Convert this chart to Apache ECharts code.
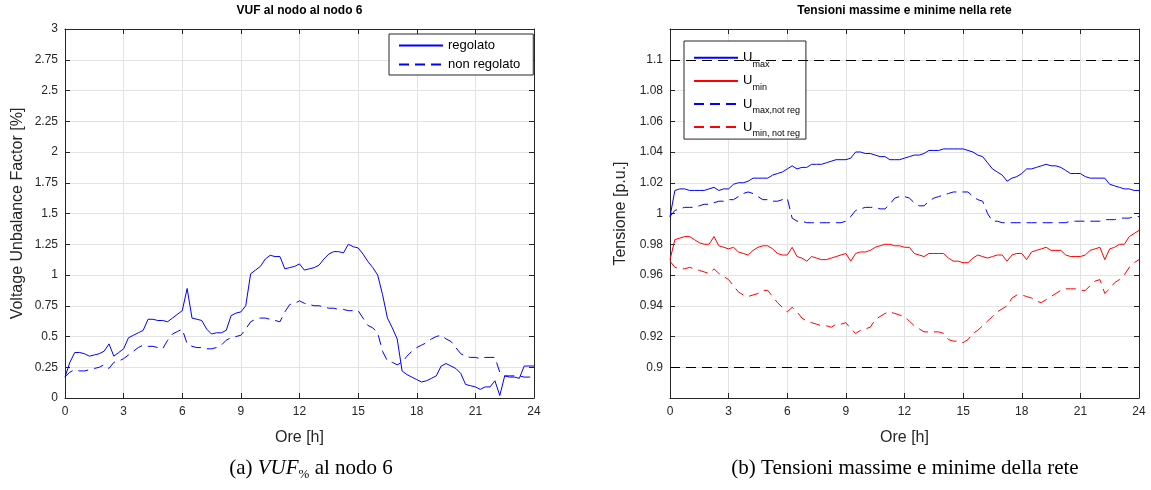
<!DOCTYPE html>
<html>
<head>
<meta charset="utf-8">
<script src="https://cdn.jsdelivr.net/npm/echarts@6/dist/echarts.min.js"></script>
<style>
  html, body { margin: 0; padding: 0; background: #fff; }
  #chart { width: 1151px; height: 490px; }
</style>
</head>
<body>
<div id="chart"></div>
<script>
// Sampling instants: one every quarter of an hour over the day
const hours = Array.from({ length: 97 }, (_, i) => i * 0.25);
const hourTickStep = 3;

// Voltage Unbalance Factor at node 6 [%] (one row per hour: :00 :15 :30 :45)
const vufRegolato = [
  0.17, 0.29, 0.37, 0.37,
  0.36, 0.34, 0.35, 0.36,
  0.38, 0.44, 0.34, 0.37,
  0.40, 0.49, 0.51, 0.53,
  0.55, 0.64, 0.64, 0.63,
  0.63, 0.62, 0.65, 0.68,
  0.71, 0.89, 0.65, 0.64,
  0.63, 0.56, 0.52, 0.53,
  0.53, 0.55, 0.67, 0.69,
  0.70, 0.75, 1.01, 1.04,
  1.07, 1.13, 1.16, 1.15,
  1.15, 1.05, 1.06, 1.07,
  1.09, 1.04, 1.05, 1.06,
  1.08, 1.13, 1.17, 1.19,
  1.19, 1.18, 1.25, 1.23,
  1.22, 1.17, 1.11, 1.06,
  1.00, 0.84, 0.65, 0.57,
  0.48, 0.22, 0.19, 0.17,
  0.15, 0.13, 0.14, 0.16,
  0.18, 0.26, 0.28, 0.26,
  0.24, 0.20, 0.11, 0.10,
  0.09, 0.07, 0.09, 0.09,
  0.14, 0.02, 0.18, 0.17,
  0.17, 0.16, 0.26, 0.26,
  0.26
];
const vufNonRegolato = [
  0.17, 0.21, 0.23, 0.22,
  0.22, 0.23, 0.24, 0.25,
  0.27, 0.24, 0.29, 0.30,
  0.32, 0.35, 0.38, 0.41,
  0.43, 0.42, 0.42, 0.41,
  0.40, 0.47, 0.52, 0.54,
  0.56, 0.44, 0.42, 0.41,
  0.41, 0.40, 0.40, 0.41,
  0.43, 0.47, 0.49, 0.50,
  0.51, 0.56, 0.62, 0.64,
  0.65, 0.65, 0.64, 0.63,
  0.62, 0.70, 0.76, 0.77,
  0.79, 0.77, 0.76, 0.75,
  0.75, 0.74, 0.73, 0.73,
  0.72, 0.72, 0.71, 0.71,
  0.71, 0.65, 0.59, 0.57,
  0.53, 0.38, 0.30, 0.29,
  0.27, 0.29, 0.34, 0.38,
  0.41, 0.43, 0.45, 0.48,
  0.50, 0.51, 0.48, 0.46,
  0.41, 0.36, 0.34, 0.33,
  0.33, 0.32, 0.33, 0.33,
  0.33, 0.21, 0.18, 0.18,
  0.18, 0.18, 0.17, 0.17,
  0.17
];

// Network voltages [p.u.]
const uMax = [
  0.998, 1.015, 1.016, 1.016,
  1.015, 1.015, 1.015, 1.015,
  1.016, 1.017, 1.015, 1.016,
  1.016, 1.019, 1.020, 1.020,
  1.021, 1.023, 1.023, 1.023,
  1.023, 1.025, 1.026, 1.027,
  1.029, 1.031, 1.029, 1.030,
  1.030, 1.032, 1.032, 1.032,
  1.033, 1.034, 1.035, 1.035,
  1.035, 1.036, 1.040, 1.040,
  1.039, 1.039, 1.038, 1.037,
  1.037, 1.035, 1.035, 1.035,
  1.036, 1.037, 1.038, 1.038,
  1.039, 1.041, 1.041, 1.041,
  1.042, 1.042, 1.042, 1.042,
  1.042, 1.041, 1.040, 1.038,
  1.037, 1.033, 1.029, 1.027,
  1.025, 1.021, 1.023, 1.024,
  1.026, 1.029, 1.029, 1.030,
  1.031, 1.032, 1.031, 1.031,
  1.030, 1.028, 1.026, 1.026,
  1.026, 1.024, 1.023, 1.023,
  1.023, 1.023, 1.019, 1.018,
  1.017, 1.016, 1.016, 1.015,
  1.015
];
const uMin = [
  0.970, 0.983, 0.984, 0.985,
  0.985, 0.983, 0.981, 0.980,
  0.980, 0.985, 0.979, 0.978,
  0.977, 0.978, 0.975, 0.974,
  0.973, 0.976, 0.978, 0.979,
  0.979, 0.977, 0.974, 0.973,
  0.973, 0.978, 0.972, 0.971,
  0.969, 0.972, 0.971, 0.970,
  0.970, 0.971, 0.972, 0.973,
  0.974, 0.969, 0.974, 0.975,
  0.975, 0.976, 0.978, 0.979,
  0.980, 0.980, 0.979, 0.979,
  0.978, 0.978, 0.974, 0.973,
  0.972, 0.974, 0.974, 0.974,
  0.974, 0.971, 0.969, 0.969,
  0.968, 0.968, 0.971, 0.973,
  0.972, 0.971, 0.972, 0.973,
  0.973, 0.969, 0.973, 0.974,
  0.974, 0.970, 0.975, 0.976,
  0.977, 0.978, 0.976, 0.976,
  0.976, 0.973, 0.972, 0.972,
  0.972, 0.973, 0.976, 0.977,
  0.978, 0.970, 0.977, 0.978,
  0.980, 0.980, 0.985, 0.987,
  0.989
];
const uMaxNotReg = [
  0.998, 1.002, 1.003, 1.004,
  1.004, 1.004, 1.005, 1.006,
  1.006, 1.007, 1.008, 1.008,
  1.009, 1.009, 1.011, 1.013,
  1.014, 1.013, 1.011, 1.009,
  1.009, 1.008, 1.008, 1.009,
  1.010, 0.997, 0.995, 0.995,
  0.994, 0.994, 0.994, 0.994,
  0.994, 0.994, 0.994, 0.994,
  0.995, 0.998, 1.002, 1.003,
  1.004, 1.004, 1.004, 1.003,
  1.003, 1.006, 1.010, 1.011,
  1.011, 1.010, 1.007, 1.005,
  1.005, 1.008, 1.010, 1.011,
  1.012, 1.013, 1.014, 1.014,
  1.014, 1.014, 1.011, 1.009,
  1.008, 1.000, 0.995, 0.995,
  0.994, 0.994, 0.994, 0.994,
  0.994, 0.994, 0.994, 0.994,
  0.994, 0.994, 0.994, 0.994,
  0.994, 0.994, 0.995, 0.995,
  0.995, 0.995, 0.995, 0.995,
  0.995, 0.996, 0.996, 0.996,
  0.997, 0.997, 0.997, 0.998,
  0.998
];
const uMinNotReg = [
  0.969, 0.965, 0.964, 0.964,
  0.965, 0.964, 0.963, 0.962,
  0.961, 0.964, 0.961, 0.959,
  0.957, 0.953, 0.949, 0.947,
  0.946, 0.947, 0.948, 0.950,
  0.950, 0.946, 0.942, 0.939,
  0.936, 0.939, 0.936, 0.932,
  0.930, 0.929, 0.928, 0.927,
  0.927, 0.926, 0.928, 0.928,
  0.929, 0.925, 0.922, 0.924,
  0.925, 0.926, 0.931, 0.933,
  0.935, 0.936, 0.935, 0.934,
  0.933, 0.930, 0.927, 0.925,
  0.923, 0.923, 0.923, 0.923,
  0.922, 0.918, 0.917, 0.917,
  0.916, 0.918, 0.922, 0.924,
  0.927, 0.930, 0.933, 0.936,
  0.938, 0.940, 0.945, 0.947,
  0.947, 0.946, 0.945, 0.943,
  0.942, 0.944, 0.946, 0.948,
  0.950, 0.951, 0.951, 0.951,
  0.950, 0.950, 0.953, 0.956,
  0.957, 0.948, 0.951, 0.955,
  0.957, 0.960, 0.965, 0.968,
  0.970
];

// Admissible voltage band [p.u.]
const voltageLimits = [0.9, 1.1];

// Subscripts shown in the voltage legend
const voltageSubscripts = {
  'U_max': 'max',
  'U_min': 'min',
  'U_max,not reg': 'max,not reg',
  'U_min, not reg': 'min, not reg'
};

const SANS = '"Liberation Sans", Arial, Helvetica, sans-serif';
const SERIF = '"Liberation Serif", "DejaVu Serif", serif';
const AXIS = '#262626';
const GRID = '#e3e3e3';
const DASH = [10, 6];

const toPairs = (arr) => hours.map((h, i) => [h, arr[i]]);

function bottomXAxis(gridIndex) {
  return {
    type: 'value', gridIndex, position: 'bottom',
    min: 0, max: 24, interval: hourTickStep,
    name: 'Ore [h]', nameLocation: 'middle', nameGap: 32,
    nameTextStyle: { fontFamily: SANS, fontSize: 16, color: AXIS },
    axisLine: { show: true, onZero: false, lineStyle: { color: AXIS, width: 1 } },
    axisTick: { show: true, inside: true, length: 5, lineStyle: { color: AXIS } },
    axisLabel: { fontFamily: SANS, fontSize: 12, color: AXIS, margin: 8 },
    splitLine: { show: true, lineStyle: { color: GRID, width: 1 } }
  };
}
function topXAxis(gridIndex) {
  return {
    type: 'value', gridIndex, position: 'top',
    min: 0, max: 24, interval: hourTickStep,
    axisLine: { show: true, onZero: false, lineStyle: { color: AXIS, width: 1 } },
    axisTick: { show: true, inside: true, length: 5, lineStyle: { color: AXIS } },
    axisLabel: { show: false },
    splitLine: { show: false }
  };
}
function sideYAxis(gridIndex, pos, min, max, interval, extra) {
  const left = pos === 'left';
  return Object.assign({
    type: 'value', gridIndex, position: pos,
    min, max, interval,
    axisLine: { show: true, onZero: false, lineStyle: { color: AXIS, width: 1 } },
    axisTick: { show: true, inside: true, length: 5, lineStyle: { color: AXIS } },
    axisLabel: { show: left, fontFamily: SANS, fontSize: 12, color: AXIS, margin: 7 },
    splitLine: { show: left, lineStyle: { color: GRID, width: 1 } }
  }, extra || {});
}

const voltageLabel = (v) => {
  if (Math.abs(v - 0.88) < 1e-6 || Math.abs(v - 1.12) < 1e-6) return '';
  return String(+v.toFixed(2));
};

function lineSeries(name, data, color, dashed, x, y) {
  return {
    type: 'line', name, data: toPairs(data),
    xAxisIndex: x, yAxisIndex: y,
    symbol: 'none', showSymbol: false, smooth: false,
    lineStyle: { color, width: 1, type: dashed ? DASH : 'solid' },
    itemStyle: { color },
    emphasis: { disabled: true }
  };
}

const chart = echarts.init(document.getElementById('chart'), null, { renderer: 'canvas' });

const option = {
  animation: false,
  backgroundColor: '#fff',
  title: [
    {
      text: 'VUF al nodo al nodo 6', left: 299.5, top: 5, textAlign: 'center', padding: 0,
      textStyle: { fontFamily: SANS, fontSize: 12, fontWeight: 'bold', color: '#000' }
    },
    {
      text: 'Tensioni massime e minime nella rete', left: 904.5, top: 5, textAlign: 'center', padding: 0,
      textStyle: { fontFamily: SANS, fontSize: 12, fontWeight: 'bold', color: '#000' }
    }
  ],
  grid: [
    { left: 65, right: 617, top: 29, bottom: 92, containLabel: false },
    { left: 670, right: 12, top: 29, bottom: 92, containLabel: false }
  ],
  xAxis: [bottomXAxis(0), topXAxis(0), bottomXAxis(1), topXAxis(1)],
  yAxis: [
    sideYAxis(0, 'left', 0, 3, 0.25, {
      name: 'Voltage Unbalance Factor [%]', nameLocation: 'middle', nameGap: 39,
      nameTextStyle: { fontFamily: SANS, fontSize: 16, color: AXIS }
    }),
    sideYAxis(0, 'right', 0, 3, 0.25),
    sideYAxis(1, 'left', 0.88, 1.12, 0.02, {
      name: 'Tensione [p.u.]', nameLocation: 'middle', nameGap: 41,
      nameTextStyle: { fontFamily: SANS, fontSize: 16, color: AXIS },
      axisLabel: { show: true, fontFamily: SANS, fontSize: 12, color: AXIS, margin: 7, formatter: voltageLabel }
    }),
    sideYAxis(1, 'right', 0.88, 1.12, 0.02)
  ],
  legend: [
    {
      data: ['regolato', 'non regolato'],
      orient: 'vertical', left: 389, top: 34,
      padding: [5, 13, 4, 9], itemGap: 6, itemWidth: 44, itemHeight: 14,
      itemStyle: { opacity: 0 },
      backgroundColor: '#fff', borderColor: AXIS, borderWidth: 1, borderRadius: 0,
      textStyle: { fontFamily: SANS, fontSize: 13, color: '#000' },
      selectedMode: false
    },
    {
      data: ['U_max', 'U_min', 'U_max,not reg', 'U_min, not reg'],
      orient: 'vertical', left: 684, top: 41,
      padding: [8, 6, 1, 9], itemGap: 3.3, itemWidth: 44, itemHeight: 22,
      itemStyle: { opacity: 0 },
      backgroundColor: '#fff', borderColor: AXIS, borderWidth: 1, borderRadius: 0,
      formatter: (name) => '{u|U}{s|' + voltageSubscripts[name] + '}',
      textStyle: {
        fontFamily: SANS, fontSize: 12, color: '#000',
        rich: {
          u: { fontFamily: SANS, fontSize: 13, lineHeight: 22, color: '#000' },
          s: { fontFamily: SANS, fontSize: 9, lineHeight: 10, verticalAlign: 'bottom', color: '#000' }
        }
      },
      selectedMode: false
    }
  ],
  series: [
    lineSeries('regolato', vufRegolato, '#0000ff', false, 0, 0),
    lineSeries('non regolato', vufNonRegolato, '#0000ff', true, 0, 0),
    lineSeries('U_max', uMax, '#0000ff', false, 2, 2),
    lineSeries('U_min', uMin, '#ff0000', false, 2, 2),
    lineSeries('U_max,not reg', uMaxNotReg, '#0000ff', true, 2, 2),
    Object.assign(lineSeries('U_min, not reg', uMinNotReg, '#ff0000', true, 2, 2), {
      markLine: {
        silent: true, symbol: 'none', label: { show: false },
        lineStyle: { color: '#000', width: 1, type: DASH },
        emphasis: { disabled: true },
        data: voltageLimits.map((v) => ({ yAxis: v }))
      }
    })
  ],
  graphic: [
    {
      type: 'text', x: 311, y: 468, silent: true,
      style: {
        text: '{a|(a) }{i|VUF}{sub|%}{a| al nodo 6}',
        align: 'center', verticalAlign: 'middle',
        rich: {
          a: { fontFamily: SERIF, fontSize: 21, lineHeight: 26, fill: '#000' },
          i: { fontFamily: SERIF, fontSize: 21, fontStyle: 'italic', lineHeight: 26, fill: '#000' },
          sub: { fontFamily: SERIF, fontSize: 13, lineHeight: 16, verticalAlign: 'bottom', fill: '#000' }
        }
      }
    },
    {
      type: 'text', x: 905, y: 468, silent: true,
      style: {
        text: '(b) Tensioni massime e minime della rete',
        align: 'center', verticalAlign: 'middle',
        font: '21px ' + SERIF, fill: '#000'
      }
    }
  ]
};

chart.setOption(option);
</script>
</body>
</html>
